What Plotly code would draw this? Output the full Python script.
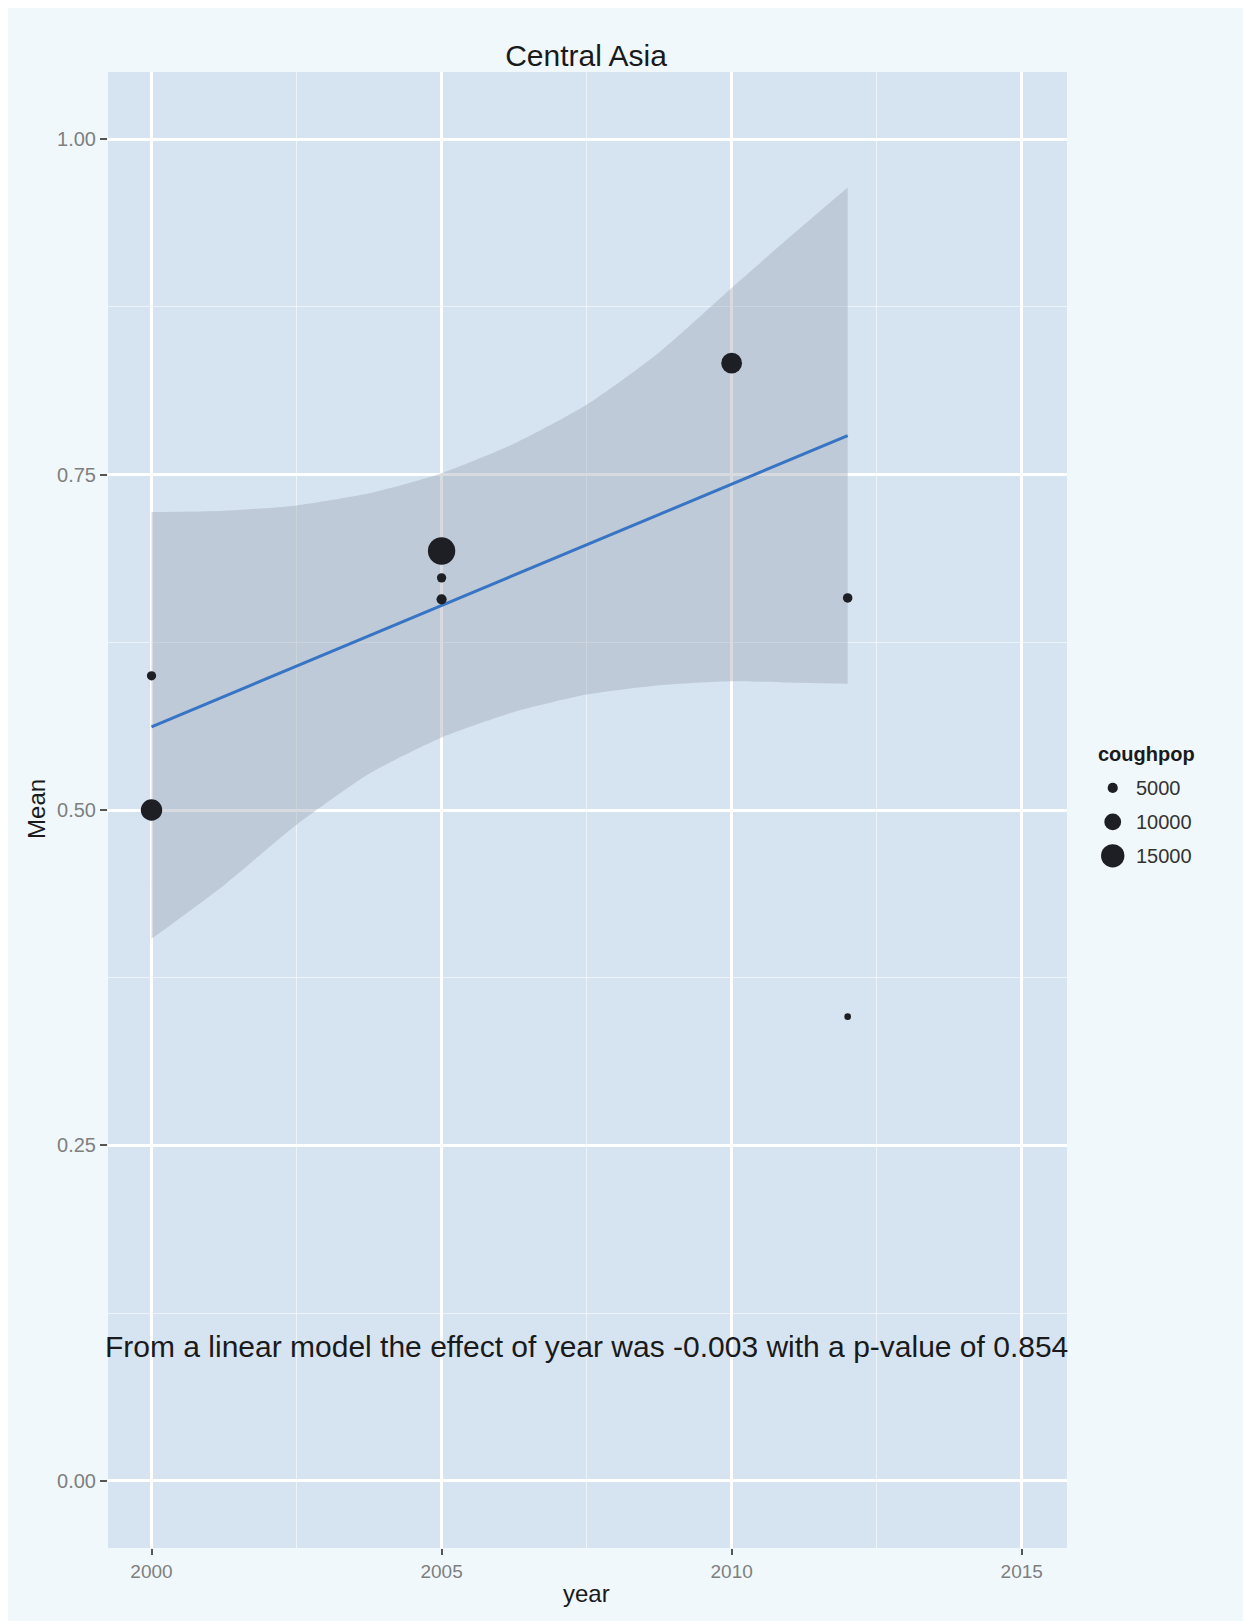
import plotly.graph_objects as go

# ---- data ----
year = [2000, 2000, 2005, 2005, 2005, 2010, 2012, 2012]
mean = [0.600, 0.500, 0.693, 0.673, 0.657, 0.833, 0.658, 0.346]
coughpop = [4300, 13500, 18000, 4300, 5000, 13000, 4500, 2300]

fit_x = [2000, 2012]
fit_y = [0.562, 0.779]

band_x = [2000, 2001.25, 2002.5, 2003.75, 2005, 2006.25, 2007.5, 2008.75, 2010, 2011, 2012]
band_upper = [0.722, 0.723, 0.727, 0.736, 0.751, 0.773, 0.802, 0.841, 0.889, 0.927, 0.964]
band_lower = [0.404, 0.444, 0.489, 0.527, 0.554, 0.573, 0.586, 0.593, 0.596, 0.595, 0.594]

legend_breaks = [5000, 10000, 15000]
legend_labels = ["5000", "10000", "15000"]

note_text = "From a linear model the effect of year was -0.003 with a p-value of 0.854"


def size_px(v):
    return 3.6 + 0.00132 * v


PAPER = "rgb(240,248,252)"
PANEL = "rgb(214,228,242)"
POINT = "#1e1f24"

fig = go.Figure()

# confidence band
fig.add_trace(go.Scatter(x=band_x, y=band_lower, mode="lines",
                         line=dict(width=0, shape="spline", smoothing=0.6),
                         hoverinfo="skip", showlegend=False))
fig.add_trace(go.Scatter(x=band_x, y=band_upper, mode="lines",
                         line=dict(width=0, shape="spline", smoothing=0.6),
                         fill="tonexty", fillcolor="rgba(154,163,177,0.4)",
                         hoverinfo="skip", showlegend=False))
# fitted line
fig.add_trace(go.Scatter(x=fit_x, y=fit_y, mode="lines",
                         line=dict(color="#3774c4", width=3), showlegend=False))
# points
fig.add_trace(go.Scatter(x=year, y=mean, mode="markers",
                         marker=dict(size=[size_px(v) for v in coughpop], color=POINT,
                                     opacity=1, line=dict(width=0)),
                         showlegend=False))

# size legend drawn on its own small axes
fig.add_trace(go.Scatter(x=[0] * len(legend_breaks), y=list(range(1, len(legend_breaks) + 1)),
                         mode="markers", xaxis="x2", yaxis="y2",
                         marker=dict(size=[size_px(v) for v in legend_breaks], color=POINT,
                                     opacity=1, line=dict(width=0)),
                         showlegend=False, hoverinfo="skip"))

annotations = [
    dict(x=2007.5, y=0.1, xref="x", yref="y", text=note_text, showarrow=False,
         font=dict(size=30, color="#1a1a1a", family="Liberation Sans, Arial"),
         xanchor="center", yanchor="middle"),
    dict(x=0.4295, y=-0.0305, xref="paper", yref="paper", text="year", showarrow=False,
         font=dict(size=24, color="#1a1a1a"), xanchor="center", yanchor="middle"),
    dict(x=-0.0638, y=0.5007, xref="paper", yref="paper", text="Mean", showarrow=False,
         textangle=-90, font=dict(size=24, color="#1a1a1a"), xanchor="center", yanchor="middle"),
    dict(x=-17, y=0, xref="x2", yref="y2", text="<b>coughpop</b>", showarrow=False,
         font=dict(size=20, color="#1a1a1a"), xanchor="left", yanchor="middle"),
]
for i, lab in enumerate(legend_labels):
    annotations.append(dict(x=21, y=i + 1, xref="x2", yref="y2", text=lab, showarrow=False,
                            font=dict(size=20, color="#333333"), xanchor="left", yanchor="middle"))

shapes = [
    # panel
    dict(type="rect", xref="x domain", yref="y domain", x0=0, x1=1, y0=0, y1=1,
         fillcolor=PANEL, line=dict(width=0), layer="below"),
]

fig.update_layout(
    width=1251, height=1621,
    margin=dict(l=100, r=38, t=64, b=81),
    paper_bgcolor=PAPER,
    plot_bgcolor="rgba(0,0,0,0)",
    font=dict(family="Liberation Sans, Arial, sans-serif", color="#1a1a1a"),
    title=dict(text="Central Asia", x=578 / 1251, y=1 - 47 / 1621, xanchor="center",
               yanchor="middle", font=dict(size=30, color="#1a1a1a")),
    showlegend=False,
    annotations=annotations,
    shapes=shapes,
    xaxis=dict(domain=[0, 0.8616], range=[1999.25, 2015.78], tick0=2000, dtick=5,
               showgrid=True, gridcolor="white", gridwidth=2.5, zeroline=False,
               ticks="outside", ticklen=6, tickwidth=2, tickcolor="#555555",
               tickfont=dict(size=19, color="#7f7f7f"),
               minor=dict(tick0=2000, dtick=2.5, showgrid=True,
                          gridcolor="rgba(255,255,255,0.55)", gridwidth=1.2, ticks=""),
               showline=False),
    yaxis=dict(domain=[0, 1], range=[-0.05, 1.05], tick0=0, dtick=0.25, tickformat=".2f",
               showgrid=True, gridcolor="white", gridwidth=2.5, zeroline=False,
               ticks="outside", ticklen=7, tickwidth=2, tickcolor="#555555",
               tickfont=dict(size=20, color="#7f7f7f"),
               minor=dict(tick0=0, dtick=0.125, showgrid=True,
                          gridcolor="rgba(255,255,255,0.55)", gridwidth=1.2, ticks=""),
               showline=False),
    xaxis2=dict(domain=[0.882, 1.0], range=[-23, 108], anchor="y2", visible=False,
                showgrid=False, zeroline=False),
    yaxis2=dict(domain=[0.4526, 0.5474], range=[3.71, -0.41], anchor="x2", visible=False,
                showgrid=False, zeroline=False),
)

fig.write_html("out.html")
